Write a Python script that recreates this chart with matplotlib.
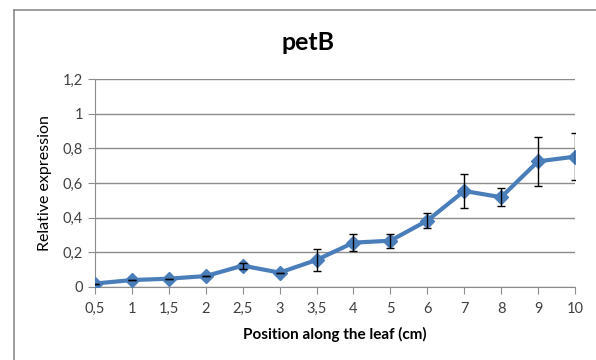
import matplotlib.pyplot as plt
from matplotlib.lines import Line2D

plt.rcParams['font.family'] = ['Lato', 'DejaVu Sans']

positions = ['0,5', '1', '1,5', '2', '2,5', '3', '3,5', '4', '5', '6', '7', '8', '9', '10']
expression = [0.02, 0.04, 0.048, 0.063, 0.123, 0.083, 0.156, 0.256, 0.267, 0.383, 0.554, 0.518, 0.725, 0.752]
errors = [0.0, 0.0, 0.0, 0.0, 0.018, 0.0, 0.065, 0.05, 0.04, 0.045, 0.1, 0.051, 0.143, 0.137]
y_ticks = [0, 0.2, 0.4, 0.6, 0.8, 1.0, 1.2]
y_tick_labels = ['0', '0,2', '0,4', '0,6', '0,8', '1', '1,2']

fig = plt.figure(figsize=(5.96, 3.6), dpi=100)
ax = fig.add_axes([95 / 596, 73 / 360, 480 / 596, 208 / 360])

ax.plot(positions, expression, color='#4A7EBB', linewidth=3, marker='D',
        markersize=7, zorder=3)
ax.errorbar(positions, expression, yerr=errors, fmt='none', ecolor='black',
            elinewidth=1, capsize=3, capthick=1, zorder=4)

ax.set_xlim(0, len(positions) - 1)
ax.set_ylim(0, 1.2)
ax.set_yticks(y_ticks)
ax.set_yticklabels(y_tick_labels)
ax.grid(axis='y', color='#8c8c8c', linewidth=1)
ax.set_axisbelow(True)

for side in ['top', 'right']:
    ax.spines[side].set_visible(False)
for side in ['left', 'bottom']:
    ax.spines[side].set_color('#8c8c8c')
ax.tick_params(axis='both', colors='#8c8c8c', labelcolor='#404040', labelsize=10.5,
               length=5, direction='out')
ax.tick_params(axis='x', pad=6)

ax.set_title('petB', fontsize=18, fontweight='bold', x=(308 - 95) / 480, y=1.14, pad=0)
ax.set_xlabel('Position along the leaf (cm)', fontsize=11, fontweight='bold', labelpad=8)
ax.set_ylabel('Relative expression', fontsize=11.5, labelpad=8)

# chart border (top and left edges visible)
fig.add_artist(Line2D([14 / 596, 14 / 596], [0, 350 / 360], color='#8c8c8c', linewidth=1.2))
fig.add_artist(Line2D([14 / 596, 1], [350 / 360, 350 / 360], color='#8c8c8c', linewidth=1.2))

fig.savefig('out.png', dpi=100)
